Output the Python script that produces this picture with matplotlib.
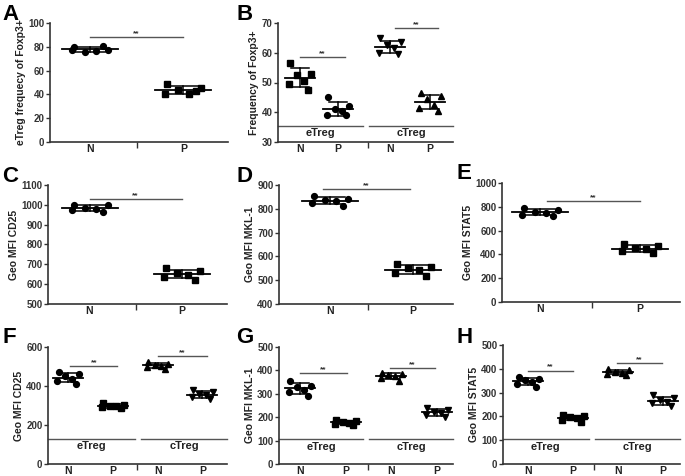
import numpy as np
import matplotlib
matplotlib.use("Agg")
import matplotlib.pyplot as plt

plt.rcParams["font.family"] = ["Liberation Sans", "DejaVu Sans"]
plt.rcParams["font.weight"] = "bold"
plt.rcParams["axes.labelweight"] = "bold"

W, H = 685, 476

labels_2 = ["N", "P"]
labels_4 = ["N", "P", "N", "P"]
subsets = ["eTreg", "cTreg"]

# --- values (6 mice per group) ---
a_vals = [[79.5, 77, 75.5, 76.5, 77.5, 80.5],
          [49, 45.5, 43.5, 40.5, 40.5, 42.5]]
b_vals = [[56.5, 53, 52.5, 50.5, 49.5, 47.5],
          [45, 42, 41, 40.5, 39, 39],
          [65, 63.5, 62.5, 61.5, 60, 59.5],
          [46.5, 45.5, 44.5, 42.5, 41.5, 40.5]]
c_vals = [[1000, 998, 985, 978, 972, 962],
          [680, 665, 658, 645, 635, 622]]
d_vals = [[855, 843, 838, 832, 825, 812],
          [570, 556, 550, 542, 530, 518]]
e_vals = [[790, 772, 760, 745, 732, 720],
          [490, 468, 455, 442, 428, 410]]
f_vals = [[470, 462, 450, 438, 428, 412],
          [315, 305, 300, 296, 290, 285],
          [522, 515, 508, 502, 497, 488],
          [380, 368, 360, 352, 345, 332]]
g_vals = [[355, 335, 328, 318, 308, 292],
          [188, 184, 180, 176, 172, 166],
          [390, 384, 379, 375, 369, 355],
          [240, 232, 224, 218, 210, 200]]
h_vals = [[367, 358, 352, 346, 338, 322],
          [206, 201, 196, 192, 186, 178],
          [400, 393, 388, 384, 380, 374],
          [288, 276, 268, 262, 255, 244]]

# jitter pattern (pixels) for the six points of a column
JIT = [-16, 18, -5, 6, -18, 13]


def panel(fig, box, vals, markers, pos, xlim, mid, ylim, yticks, ylabel,
          sigs, xlabels, letter, letter_xy, group_y=None, wide=True):
    l, t, r, b = box
    ax = fig.add_axes([l / W, 1 - b / H, (r - l) / W, (b - t) / H])
    ax.set_xlim(*xlim)
    ax.set_ylim(*ylim)
    upp = (xlim[1] - xlim[0]) / (r - l)      # data units per pixel
    mean_hw = (28 if wide else 15) * upp
    cap_hw = (15 if wide else 9) * upp
    jscale = 1.0 if wide else 0.6

    for x, v, m in zip(pos, vals, markers):
        v = np.asarray(v, float)
        xs = x + np.array(JIT) * jscale * upp
        ax.plot(xs, v, ls="none", marker=m, ms=4.2, color="black", zorder=3)
        mu, sd = v.mean(), v.std(ddof=1)
        ax.plot([x - mean_hw, x + mean_hw], [mu, mu], color="black", lw=1.3, zorder=4)
        ax.plot([x, x], [mu - sd, mu + sd], color="black", lw=1.1, zorder=4)
        for yy in (mu - sd, mu + sd):
            ax.plot([x - cap_hw, x + cap_hw], [yy, yy], color="black", lw=1.1, zorder=4)

    for x0, x1, y in sigs:
        ax.plot([x0, x1], [y, y], color="#555555", lw=1.0)
        ax.text((x0 + x1) / 2, y, "**", ha="center", va="bottom", fontsize=6,
                color="#333333")

    if group_y is not None:
        spans = [(0.0, 0.485), (0.52, 1.0)]
        for (f0, f1), name in zip(spans, subsets):
            x0 = xlim[0] + f0 * (xlim[1] - xlim[0])
            x1 = xlim[0] + f1 * (xlim[1] - xlim[0])
            ax.plot([x0, x1], [group_y, group_y], color="#555555", lw=1.0,
                    clip_on=False)
            ax.annotate(name, xy=((x0 + x1) / 2, group_y), xytext=(0, -2),
                        textcoords="offset points", ha="center", va="top",
                        fontsize=8, color="#222222")

    for s in ("top", "right"):
        ax.spines[s].set_visible(False)
    for s in ("left", "bottom"):
        ax.spines[s].set_color("#333333")
        ax.spines[s].set_linewidth(1.2)
    ax.set_yticks(yticks)
    ax.set_xticks(pos)
    ax.set_xticklabels(xlabels)
    ax.set_xticks([mid], minor=True)
    ax.tick_params(axis="y", direction="out", length=3, width=1,
                   labelsize=7, colors="#333333", pad=1)
    ax.tick_params(axis="x", which="major", length=0, labelsize=7.5, pad=1.5,
                   colors="#222222")
    ax.tick_params(axis="x", which="minor", length=4, width=1, direction="out",
                   colors="#333333")
    ax.set_ylabel(ylabel, fontsize=7.5, color="#222222", labelpad=1.5)

    fig.text(letter_xy[0] / W, 1 - letter_xy[1] / H, letter, fontsize=16,
             fontweight="bold", ha="left", va="top")
    return ax


fig = plt.figure(figsize=(W / 100, H / 100), dpi=100)
fig.patch.set_facecolor("white")

panel(fig, (50, 23, 228, 142), a_vals, ["o", "s"], [0, 1], (-0.43, 1.48), 0.5,
      (0, 100), range(0, 101, 20), "eTreg frequecy of Foxp3+",
      [(0, 1, 88)], labels_2, "A", (2, 4))

panel(fig, (278, 23, 453, 142), b_vals, ["s", "o", "v", "^"],
      [0, 0.88, 2.09, 3.02], (-0.51, 3.55), 1.58,
      (30, 70), range(30, 71, 10), "Frequency of Foxp3+",
      [(0, 1.05, 58.5), (2.2, 3.2, 68.2)], labels_4, "B", (236, 4),
      group_y=35.5, wide=False)

panel(fig, (48, 185, 227, 304), c_vals, ["o", "s"], [0, 1], (-0.45, 1.49), 0.5,
      (500, 1100), range(500, 1101, 100), "Geo MFI CD25",
      [(0, 1, 1030)], labels_2, "C", (2, 166))

panel(fig, (279, 185, 453, 304), d_vals, ["o", "s"], [0, 1], (-0.61, 1.48), 0.46,
      (400, 900), range(400, 901, 100), "Geo MFI MKL-1",
      [(-0.08, 0.96, 883)], labels_2, "D", (236, 166))

panel(fig, (502, 183, 680, 302), e_vals, ["o", "s"], [0, 1], (-0.38, 1.4), 0.52,
      (0, 1000), range(0, 1001, 200), "Geo MFI STAT5",
      [(0.07, 1.0, 845)], labels_2, "E", (456, 163))

panel(fig, (48, 347, 227, 464), f_vals, ["o", "s", "^", "v"],
      [0, 1, 2, 3], (-0.45, 3.55), 1.53,
      (0, 600), range(0, 601, 200), "Geo MFI CD25",
      [(0.05, 1.1, 501), (2.0, 3.1, 552)], labels_4, "F", (3, 327),
      group_y=130, wide=False)

panel(fig, (279, 347, 453, 464), g_vals, ["o", "s", "^", "v"],
      [0, 1, 2, 3], (-0.46, 3.35), 1.49,
      (0, 500), range(0, 501, 100), "Geo MFI MKL-1",
      [(0, 1.03, 389), (1.96, 2.95, 410)], labels_4, "G", (236, 327),
      group_y=108, wide=False)

panel(fig, (503, 345, 680, 464), h_vals, ["o", "s", "^", "v"],
      [0, 1, 2, 3], (-0.56, 3.38), 1.47,
      (0, 500), range(0, 501, 100), "Geo MFI STAT5",
      [(0, 1.0, 392), (1.98, 2.98, 423)], labels_4, "H", (456, 327),
      group_y=105, wide=False)

fig.savefig("out.png", dpi=100)
